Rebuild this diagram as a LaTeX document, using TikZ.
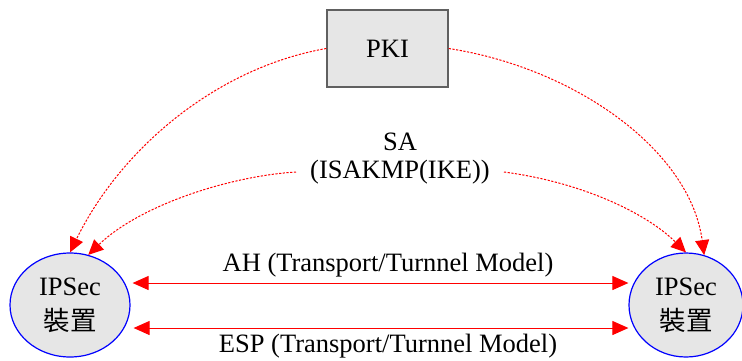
\documentclass[tikz,border=0pt]{standalone}
\usepackage{fontspec}
\setmainfont{Liberation Serif}
\newfontfamily\cjk{Noto Sans CJK TC}
\usetikzlibrary{shapes.geometric,arrows.meta}
\definecolor{boxgray}{HTML}{E6E6E6}
\definecolor{edgegray}{HTML}{606060}
\begin{document}
\begin{tikzpicture}[x=1pt,y=-1pt,
  every node/.style={font=\fontsize{26.5}{35}\selectfont},
  device/.style={ellipse,draw=blue,line width=1.2pt,fill=boxgray,inner sep=0pt,align=center},
  pkibox/.style={rectangle,draw=edgegray,line width=1.5pt,fill=boxgray,minimum width=121pt,minimum height=77pt},
  negot/.style={red,line width=1pt,dash pattern=on 2.2pt off 1.5pt,-{Triangle[length=15pt,width=14pt]}},
  link/.style={red,line width=1pt,{Triangle[length=16pt,width=14pt]}-{Triangle[length=16pt,width=14pt]}},
  label/.style={inner sep=0pt}]
\useasboundingbox (0,0) rectangle (742,360);
\node[pkibox] (pki) at (387.5,48.5) {PKI};
\node[device,minimum width=120pt,minimum height=104pt] (left) at (70,305) {IPSec\\{\cjk 裝置}};
\node[device,minimum width=114pt,minimum height=104pt] (right) at (686,305) {IPSec\\{\cjk 裝置}};
\node[label] (sa) at (400,142) {SA};
\node[inner sep=14pt] (ike) at (400,172) {(ISAKMP(IKE))};
\node[label] (ah) at (388,265) {AH (Transport/Turnnel Model)};
\node[label] (esp) at (388,346) {ESP (Transport/Turnnel Model)};
% certificate paths from the PKI
\draw[negot] (pki.west) .. controls (215,68) and (120,150) .. (left.north);
\draw[negot] (pki.east) .. controls (575,68) and (690,150) .. (right.70);
% key exchange
\draw[negot] (ike.west) .. controls (230,176) and (140,205) .. (left.70);
\draw[negot] (ike.east) .. controls (580,182) and (645,212) .. (right.north);
% protected traffic
\draw[link] ([shift={(2,-22)}]left.east) -- ([shift={(0,-22)}]right.west);
\draw[link] ([shift={(3,23)}]left.east) -- ([shift={(0,23)}]right.west);
\end{tikzpicture}
\end{document}
